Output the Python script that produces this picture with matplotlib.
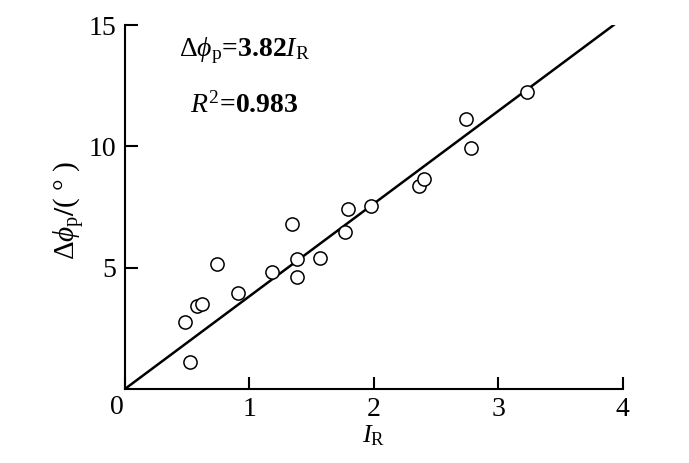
import numpy as np
import matplotlib
matplotlib.use("Agg")
import matplotlib.pyplot as plt

# Data
I_R = [0.48, 0.52, 0.58, 0.62, 0.74, 0.91, 1.18, 1.34, 1.38, 1.38,
       1.57, 1.77, 1.79, 1.98, 2.36, 2.40, 2.74, 2.78, 3.23]
d_phi = [2.75, 1.13, 3.42, 3.49, 5.14, 3.94, 4.82, 6.79, 5.34, 4.62,
         5.41, 6.46, 7.40, 7.54, 8.37, 8.64, 11.11, 9.92, 12.23]
slope = 3.82
x_ticks = [0, 1, 2, 3, 4]
x_labels = ["", "1", "2", "3", "4"]
y_ticks = [5, 10, 15]

plt.rcParams["font.family"] = ["Liberation Serif", "DejaVu Serif"]
plt.rcParams["mathtext.fontset"] = "custom"
plt.rcParams["mathtext.rm"] = "Liberation Serif"
plt.rcParams["mathtext.it"] = "Liberation Serif:italic"
plt.rcParams["mathtext.bf"] = "Liberation Serif:bold"

fig = plt.figure(figsize=(6.89, 4.63), dpi=100)
ax = fig.add_axes([0.1814, 0.16, 0.7226, 0.786])

# fitted line through origin
x_fit = np.array([0, 15 / slope])
ax.plot(x_fit, slope * x_fit, color="black", lw=1.8)
ax.plot(I_R, d_phi, "o", mfc="white", mec="black", ms=9.5, mew=1.1,
        clip_on=False)

ax.set_xlim(0, 4)
ax.set_ylim(0, 15)
ax.set_xticks(x_ticks)
ax.set_xticklabels(x_labels)
ax.set_yticks(y_ticks)
ax.spines["top"].set_visible(False)
ax.spines["right"].set_visible(False)
for s in ["left", "bottom"]:
    ax.spines[s].set_linewidth(1.5)
ax.tick_params(direction="in", length=9, width=1.5, labelsize=20, pad=6)
ax.text(-0.002, -0.018, "0", transform=ax.transAxes, ha="right", va="top",
        fontsize=20)

ax.set_xlabel(r"$I_{\mathrm{R}}$", fontsize=19, labelpad=1)
ax.set_ylabel(r"$\Delta\phi_{\mathrm{p}}$$\mathbf{/}$( ° )", fontsize=21)
ax.yaxis.set_label_coords(-0.076, 0.49)

ax.text(0.24, 0.93, r"$\Delta\phi_{\mathrm{p}}$=3.82$I_{\mathrm{R}}$",
        transform=ax.transAxes, ha="center", va="center", fontsize=20,
        fontweight="bold")
ax.text(0.24, 0.78, r"$R^2$=0.983",
        transform=ax.transAxes, ha="center", va="center", fontsize=20,
        fontweight="bold")

fig.savefig("out.png", dpi=100)
